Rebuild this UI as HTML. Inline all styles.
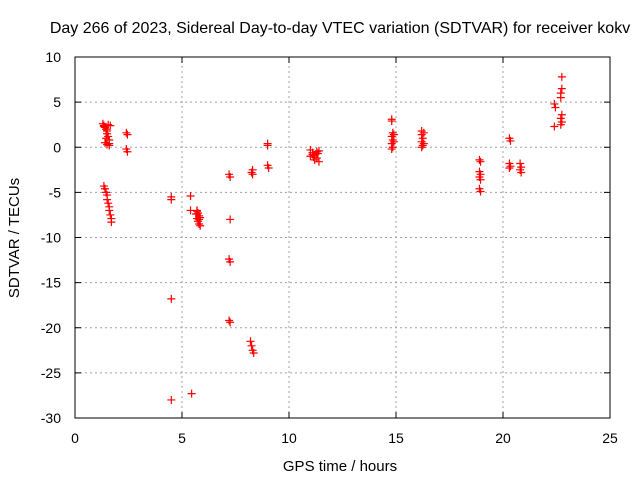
<!DOCTYPE html>
<html><head><meta charset="utf-8"><style>
body{margin:0;background:#fff;}
svg{display:block;font-family:"Liberation Sans",sans-serif;}
</style></head><body>
<svg id="chart" width="640" height="480">
<text x="340" y="33" text-anchor="middle" font-size="16">Day 266 of 2023, Sidereal Day-to-day VTEC variation (SDTVAR) for receiver kokv</text>
<text x="340" y="471" text-anchor="middle" font-size="15">GPS time / hours</text>
<text transform="translate(19,238) rotate(-90)" text-anchor="middle" font-size="15">SDTVAR / TECUs</text>
<g id="grid"></g><g id="ticks"></g><g id="pts"></g>
<rect x="75" y="57" width="535" height="361" fill="none" stroke="#000"/>
</svg>
<script>
const xTicks=[0,5,10,15,20,25];
const yTicks=[10,5,0,-5,-10,-15,-20,-25,-30];
const hours=[1.3,1.35,1.4,1.45,1.5,1.55,1.6,1.4,1.5,1.6,1.45,1.55,1.35,1.5,1.6,1.65,
2.4,2.45,2.4,2.45,
1.35,1.4,1.45,1.5,1.5,1.55,1.6,1.6,1.65,1.7,1.7,
4.5,4.5,4.5,4.5,
5.4,5.4,5.45,
5.7,5.75,5.8,5.7,5.75,5.8,5.85,5.7,5.8,5.65,5.85,
7.2,7.25,7.25,7.2,7.25,7.2,7.25,
8.3,8.25,8.3,8.2,8.25,8.3,8.35,
9.0,9.0,9.0,9.05,
11.0,11.1,11.2,11.3,11.4,11.0,11.2,11.3,11.1,11.4,11.15,11.35,
14.8,14.8,14.85,14.8,14.85,14.8,14.85,14.8,14.9,14.9,
16.2,16.2,16.25,16.2,16.25,16.2,16.3,16.3,
18.9,18.95,18.9,18.95,18.9,18.95,18.9,18.95,
20.3,20.35,20.3,20.35,20.3,
20.8,20.85,20.8,20.85,
22.4,22.45,22.4,
22.75,22.75,22.7,22.7,22.75,22.7,22.75,22.7];
const values=[2.6,2.4,2.2,2.0,1.5,1.2,0.8,0.5,0.3,0.2,1.0,2.5,2.3,1.8,0.4,2.4,
1.6,1.4,-0.2,-0.5,
-4.3,-4.6,-5.0,-5.3,-5.8,-6.2,-6.6,-7.0,-7.5,-7.9,-8.3,
-5.5,-5.8,-16.8,-28.0,
-5.4,-7.0,-27.3,
-7.0,-7.3,-7.6,-7.9,-8.2,-8.5,-8.7,-7.1,-8.0,-7.4,-7.8,
-3.0,-3.3,-8.0,-12.4,-12.7,-19.2,-19.4,
-2.5,-2.8,-3.0,-21.5,-22.0,-22.5,-22.8,
0.4,0.2,-2.0,-2.3,
-0.3,-0.6,-0.9,-1.2,-1.6,-1.0,-1.4,-0.5,-0.8,-0.4,-1.1,-0.7,
3.1,2.9,1.6,1.2,0.8,0.4,0.0,-0.2,1.4,0.6,
1.8,1.4,1.0,0.6,0.2,0.0,1.6,0.4,
-1.4,-1.6,-2.7,-3.0,-3.3,-3.6,-4.6,-4.9,
1.0,0.7,-1.8,-2.1,-2.3,
-1.8,-2.2,-2.5,-2.8,
4.8,4.4,2.3,
7.8,6.5,6.0,5.5,3.6,3.2,2.8,2.5];
const NS="http://www.w3.org/2000/svg";
const X0=75,X1=610,Y0=418,Y1=57;
function sx(h){return X0+(h-0)/(25-0)*(X1-X0);}
function sy(v){return Y0-(v+30)/(10+30)*(Y0-Y1);}
function mk(tag,at,parent){const e=document.createElementNS(NS,tag);for(const k in at)e.setAttribute(k,at[k]);parent.appendChild(e);return e;}
const grid=document.getElementById('grid'),ticks=document.getElementById('ticks'),pts=document.getElementById('pts');
xTicks.forEach(t=>{const x=sx(t);
 if(t>0&&t<25){const g=mk('line',{x1:x,x2:x,y1:Y0,y2:Y1,stroke:'#a0a0a0','stroke-dasharray':'2,3'},grid);
 
 }
 mk('line',{x1:x,x2:x,y1:Y0,y2:Y0-6,stroke:'#000'},ticks);
 mk('line',{x1:x,x2:x,y1:Y1,y2:Y1+6,stroke:'#000'},ticks);
 const l=mk('text',{x:x,y:443,'text-anchor':'middle','font-size':14},ticks);l.textContent=t;
 
 });
yTicks.forEach(t=>{const y=sy(t);
 if(t>-30&&t<10){const g=mk('line',{x1:X0,x2:X1,y1:y,y2:y,stroke:'#a0a0a0','stroke-dasharray':'2,3'},grid);
 
 }
 mk('line',{x1:X0,x2:X0+6,y1:y,y2:y,stroke:'#000'},ticks);
 mk('line',{x1:X1,x2:X1-6,y1:y,y2:y,stroke:'#000'},ticks);
 const l=mk('text',{x:61,y:y+5,'text-anchor':'end','font-size':14},ticks);l.textContent=t;
 
 });
hours.forEach((h,i)=>{const x=sx(h),y=sy(values[i]);
 const p=mk('path',{d:`M${x-4},${y}H${x+4}M${x},${y-4}V${y+4}`,stroke:'#f00','stroke-width':1.2},pts);
 
 });
</script>
</body></html>
